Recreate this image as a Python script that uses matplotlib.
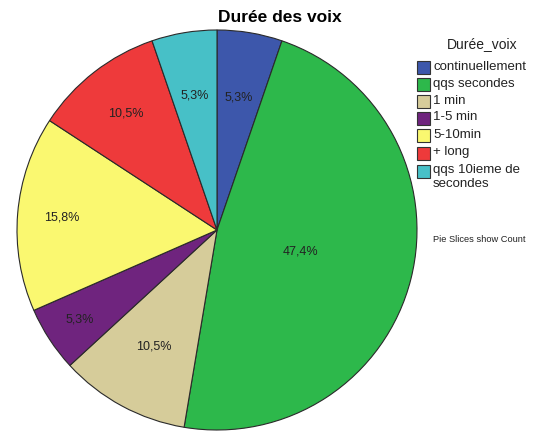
import matplotlib
matplotlib.use("Agg")
import matplotlib.pyplot as plt
from matplotlib.patches import Rectangle
import numpy as np

plt.rcParams['font.family'] = ['Liberation Sans', 'DejaVu Sans']

# données
categories = ['continuellement', 'qqs secondes', '1 min', '1-5 min',
              '5-10min', '+ long', 'qqs 10ieme de\nsecondes']
counts = [1, 9, 2, 1, 3, 2, 1]
pct_labels = ['5,3%', '47,4%', '10,5%', '5,3%', '15,8%', '10,5%', '5,3%']

colors = ['#3D57AB', '#2DB84B', '#D6CC9A', '#6F247E', '#FAF870', '#EE3A3B', '#47C0C7']
label_dist = [0.67, 0.43, 0.66, 0.82, 0.78, 0.74, 0.68]

W, H = 535, 432
fig = plt.figure(figsize=(W / 100, H / 100), dpi=100)
ax = fig.add_axes([17 / W, 2 / H, 400 / W, 400 / H])

wedges, _ = ax.pie(counts, colors=colors, startangle=90, counterclock=False,
                   radius=1.0,
                   wedgeprops=dict(edgecolor='#2a2a2a', linewidth=0.8))

total = sum(counts)
cum = 0
for c, lab, d in zip(counts, pct_labels, label_dist):
    mid = 90 - (cum + c / 2) / total * 360
    cum += c
    ax.text(d * np.cos(np.radians(mid)), d * np.sin(np.radians(mid)), lab,
            ha='center', va='center', fontsize=9, color='#222222')

ax.set_xlim(-1, 1)
ax.set_ylim(-1, 1)
ax.set_aspect('equal')
ax.axis('off')

fig.text(280 / W, 1 - 17 / H, 'Durée des voix', ha='center', va='center',
         fontsize=12.5, fontweight='bold')

# légende dessinée à la main (pixels)
fig.text(482 / W, 1 - 44 / H, 'Durée_voix', ha='center', va='center',
         fontsize=10, color='#222222')
row_y = [67, 84, 101, 118, 135, 153, 171]
for col, lab, y in zip(colors, categories, row_y):
    fig.add_artist(Rectangle((417 / W, 1 - (y + 7) / H), 13 / W, 13 / H,
                             transform=fig.transFigure, facecolor=col,
                             edgecolor='#333333', linewidth=0.8))
    fig.text(433 / W, 1 - (y - 6.5) / H, lab, ha='left', va='top',
             fontsize=9.5, color='#222222', linespacing=1.15)

fig.text(433 / W, 1 - 240 / H, 'Pie Slices show Count', ha='left', va='center',
         fontsize=6.7, color='#222222')

fig.savefig('out.png', dpi=100)
